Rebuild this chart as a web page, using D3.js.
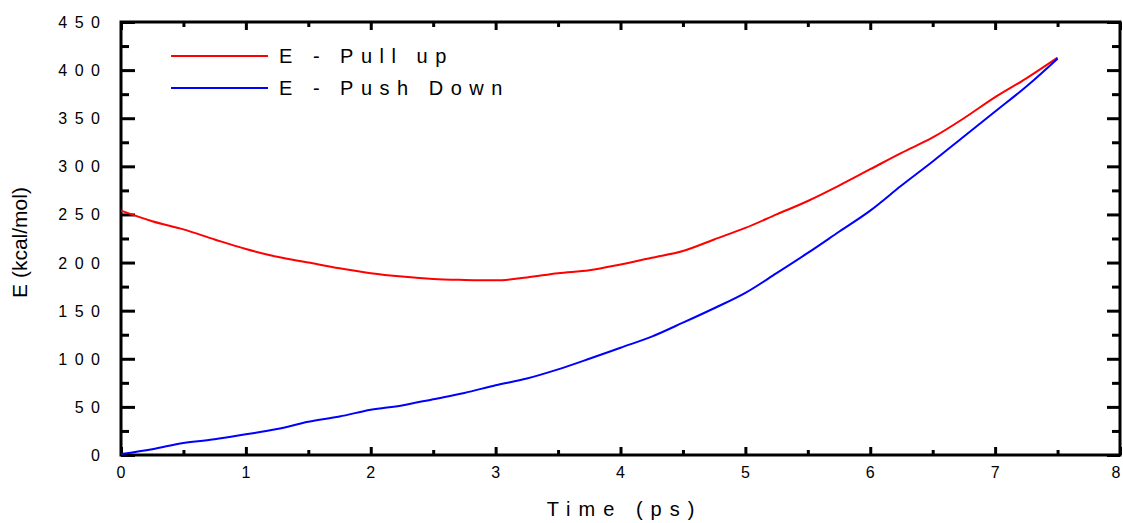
<!DOCTYPE html>
<html>
<head>
<meta charset="utf-8">
<script src="https://cdn.jsdelivr.net/npm/d3@7"></script>
<style>
  body { margin: 0; background: #fff; }
  svg text { font-family: "Liberation Sans", Arial, sans-serif; fill: #000; }
</style>
</head>
<body>
<svg id="chart"></svg>
<script>
// time points (ps)
const time = [0, 0.25, 0.5, 0.75, 1, 1.25, 1.5, 1.75, 2, 2.25, 2.5, 2.75, 3, 3.25, 3.5,
  3.75, 4, 4.25, 4.5, 4.75, 5, 5.25, 5.5, 5.75, 6, 6.25, 6.5, 6.75, 7, 7.25, 7.5];

// E - Pull up (kcal/mol)
const pullUp = [254, 243, 234.5, 224, 214, 206, 200, 194, 189, 185.5, 183, 182, 181.5, 184.5, 189,
  192, 198, 205, 212, 224, 236, 250, 264, 280, 297, 314, 330, 350, 372, 391.5, 413];

// E - Push Down (kcal/mol)
const pushDown = [1, 6, 12.5, 16.3, 21.5, 27, 34.5, 40, 47, 51.5, 58, 64.5, 72.5, 79.5, 89,
  100, 111.5, 123, 137.5, 152.5, 168.5, 189, 210, 232, 254, 280, 305, 331, 357, 383, 412];

const seriesNames = ["E - Pull up", "E - Push Down"];
const seriesColors = ["#ff0000", "#0000ff"];

const xTicks = [0, 1, 2, 3, 4, 5, 6, 7, 8];
const yTicks = [0, 50, 100, 150, 200, 250, 300, 350, 400, 450];

const width = 1123, height = 523;
const margin = {top: 22, right: 3, bottom: 68, left: 121};
const w = width - margin.left - margin.right,
      h = height - margin.top - margin.bottom;

const svg = d3.select("#chart").attr("width", width).attr("height", height);
const g = svg.append("g").attr("transform", `translate(${margin.left},${margin.top})`);

const x = d3.scaleLinear().domain([0, 8]).range([0, w]);
const y = d3.scaleLinear().domain([0, 450]).range([h, 0]);

const xMinor = d3.range(0.5, 8, 1);
const yMinor = d3.range(25, 450, 50);

// Axes: ticks point inward on all four sides, labels drawn separately
function styleAxis(sel) {
  sel.select(".domain").remove();
  sel.selectAll(".tick text").remove();
  sel.selectAll(".tick line").attr("stroke", "#000").attr("stroke-width", 3);
}

g.append("g").attr("transform", `translate(0,${h})`)
  .call(d3.axisBottom(x).tickValues(xTicks).tickSize(-8)).call(styleAxis);
g.append("g").attr("transform", `translate(0,${h})`)
  .call(d3.axisBottom(x).tickValues(xMinor).tickSize(-5)).call(styleAxis);
g.append("g")
  .call(d3.axisTop(x).tickValues(xTicks).tickSize(-8)).call(styleAxis);
g.append("g")
  .call(d3.axisTop(x).tickValues(xMinor).tickSize(-5)).call(styleAxis);
g.append("g")
  .call(d3.axisLeft(y).tickValues(yTicks).tickSize(-14)).call(styleAxis);
g.append("g")
  .call(d3.axisLeft(y).tickValues(yMinor).tickSize(-8)).call(styleAxis);
g.append("g").attr("transform", `translate(${w},0)`)
  .call(d3.axisRight(y).tickValues(yTicks).tickSize(-13)).call(styleAxis);
g.append("g").attr("transform", `translate(${w},0)`)
  .call(d3.axisRight(y).tickValues(yMinor).tickSize(-8)).call(styleAxis);

// tick labels
g.selectAll(".xlab")
  .data(xTicks)
  .join("text")
  .attr("x", d => x(d) - (d === 8 ? 4 : 0))
  .attr("y", h + 23)
  .attr("text-anchor", "middle")
  .style("font-size", "16px")
  .text(d => d);

g.selectAll(".ylab")
  .data(yTicks)
  .join("text")
  .attr("x", -13.5)
  .attr("y", d => y(d) + 6)
  .attr("text-anchor", "end")
  .style("font-size", "16px")
  .style("letter-spacing", "7.5px")
  .text(d => d);

// frame
g.append("rect")
  .attr("width", w).attr("height", h)
  .attr("fill", "none").attr("stroke", "#000").attr("stroke-width", 3);

// lines
const line = d3.line()
  .x((d, i) => x(time[i]))
  .y(d => y(d))
  .curve(d3.curveMonotoneX);

[pullUp, pushDown].forEach((vals, k) => {
  g.append("path")
    .datum(vals)
    .attr("fill", "none")
    .attr("stroke", seriesColors[k])
    .attr("stroke-width", 2)
    .attr("d", line);
});

// legend
const legend = svg.append("g").attr("transform", "translate(171,56)");
seriesNames.forEach((name, k) => {
  const row = legend.append("g").attr("transform", `translate(0,${k * 32})`);
  row.append("line")
    .attr("x1", 0).attr("x2", 97)
    .attr("stroke", seriesColors[k]).attr("stroke-width", 2);
  row.append("text")
    .attr("x", 108).attr("y", 7)
    .style("font-size", "20px")
    .style("letter-spacing", "7.5px")
    .text(name);
});

// axis titles
svg.append("text")
  .attr("x", margin.left + w / 2 + 4).attr("y", 516)
  .attr("text-anchor", "middle")
  .style("font-size", "20px")
  .style("letter-spacing", "8px")
  .text("Time (ps)");

svg.append("text")
  .attr("transform", `translate(27,${margin.top + h / 2 + 4}) rotate(-90)`)
  .attr("text-anchor", "middle")
  .style("font-size", "21px")
  .text("E (kcal/mol)");
</script>
</body>
</html>
